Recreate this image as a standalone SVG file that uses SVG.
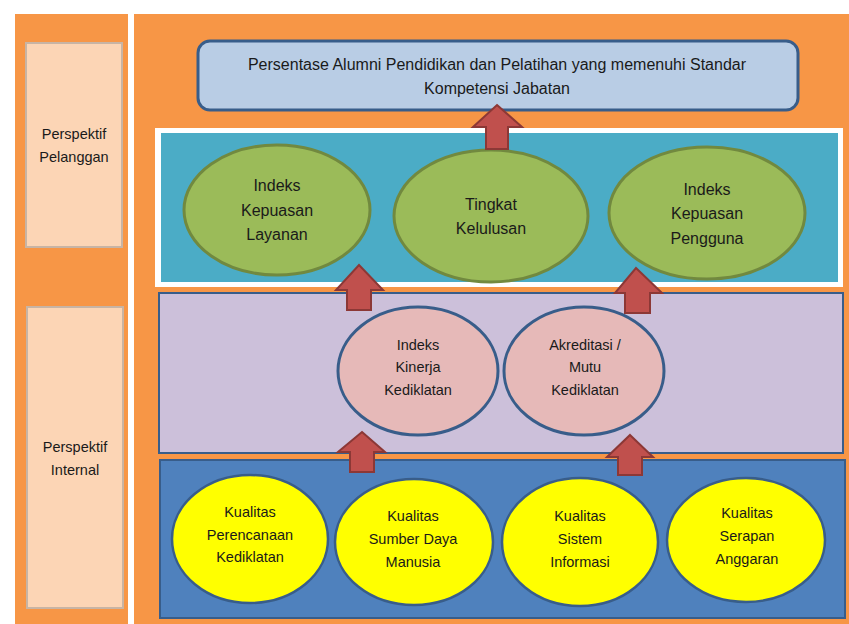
<svg xmlns="http://www.w3.org/2000/svg" width="849" height="624" viewBox="0 0 849 624">
<defs>
<style>
text{font-family:"Liberation Sans",Arial,sans-serif;font-size:14.5px;fill:#1a1a1a;text-anchor:middle}
.side{fill:#fcd5b5;stroke:#c8b4a4;stroke-width:2}
.green{fill:#9bbb59;stroke:#71893f;stroke-width:3}
.pink{fill:#e6b9b8;stroke:#385d8a;stroke-width:3}
.yellow{fill:#ffff00;stroke:#385d8a;stroke-width:2.5}
.arrow{fill:#c0504d;stroke:#8c3836;stroke-width:2;stroke-linejoin:miter}
.big{font-size:16px}
</style>
</defs>
<rect width="849" height="624" fill="#ffffff"/>
<g id="backgrounds">
<rect x="15" y="14" width="113" height="610" fill="#f79646"/>
<rect x="134" y="14" width="715" height="610" fill="#f79646"/>
</g>
<g id="perspektif-pelanggan">
<rect class="side" x="26" y="43" width="96" height="204"/>
<text x="74" y="139">Perspektif</text>
<text x="74" y="162">Pelanggan</text>
</g>
<g id="perspektif-internal">
<rect class="side" x="27" y="307" width="96" height="301"/>
<text x="75" y="452">Perspektif</text>
<text x="75" y="475">Internal</text>
</g>
<g id="panel-pelanggan">
<rect x="155" y="128" width="688" height="159" fill="#ffffff"/>
<rect x="161" y="133" width="677" height="149" fill="#4bacc6"/>
</g>
<g id="panel-internal">
<rect x="159" y="293" width="684" height="160" fill="#ccc0da" stroke="#385d8a" stroke-width="2"/>
</g>
<g id="panel-dasar">
<rect x="160" y="460" width="685" height="158" fill="#4f81bd" stroke="#385d8a" stroke-width="2"/>
</g>
<g id="persentase">
<rect x="198" y="41" width="600" height="69" rx="12" fill="#b9cde5" stroke="#385d8a" stroke-width="3"/>
<text class="big" x="497" y="70">Persentase Alumni Pendidikan dan Pelatihan yang memenuhi Standar</text>
<text class="big" x="497" y="94">Kompetensi Jabatan</text>
</g>
<g id="indeks-kepuasan-layanan">
<ellipse class="green" cx="277" cy="210" rx="93" ry="65"/>
<text class="big" x="277" y="191">Indeks</text>
<text class="big" x="277" y="216">Kepuasan</text>
<text class="big" x="277" y="240">Layanan</text>
</g>
<g id="tingkat-kelulusan">
<ellipse class="green" cx="491" cy="216" rx="97" ry="66"/>
<text class="big" x="491" y="210">Tingkat</text>
<text class="big" x="491" y="234">Kelulusan</text>
</g>
<g id="indeks-kepuasan-pengguna">
<ellipse class="green" cx="707" cy="213" rx="98" ry="66"/>
<text class="big" x="707" y="195">Indeks</text>
<text class="big" x="707" y="219">Kepuasan</text>
<text class="big" x="707" y="244">Pengguna</text>
</g>
<g id="indeks-kinerja">
<ellipse class="pink" cx="418" cy="371" rx="80" ry="64"/>
<text x="418" y="350">Indeks</text>
<text x="418" y="372">Kinerja</text>
<text x="418" y="395">Kediklatan</text>
</g>
<g id="akreditasi">
<ellipse class="pink" cx="584" cy="371" rx="80" ry="64"/>
<text x="585" y="350">Akreditasi /</text>
<text x="585" y="372">Mutu</text>
<text x="585" y="395">Kediklatan</text>
</g>
<g id="kualitas-perencanaan">
<ellipse class="yellow" cx="250" cy="539" rx="78" ry="64"/>
<text x="250" y="517">Kualitas</text>
<text x="250" y="540">Perencanaan</text>
<text x="250" y="562">Kediklatan</text>
</g>
<g id="kualitas-sdm">
<ellipse class="yellow" cx="414" cy="542" rx="79" ry="63"/>
<text x="413" y="521">Kualitas</text>
<text x="413" y="544">Sumber Daya</text>
<text x="413" y="567">Manusia</text>
</g>
<g id="kualitas-sistem">
<ellipse class="yellow" cx="580" cy="542" rx="78" ry="64"/>
<text x="580" y="521">Kualitas</text>
<text x="580" y="544">Sistem</text>
<text x="580" y="567">Informasi</text>
</g>
<g id="kualitas-serapan">
<ellipse class="yellow" cx="746" cy="540" rx="79" ry="62"/>
<text x="747" y="518">Kualitas</text>
<text x="747" y="541">Serapan</text>
<text x="747" y="564">Anggaran</text>
</g>
<g id="connectors">
<path class="arrow" d="M497 105 L522 127 L508 127 L508 149 L486 149 L486 127 L473 127 Z"/>
<path class="arrow" d="M359 265 L383 290 L371 290 L371 310 L347 310 L347 290 L336 290 Z"/>
<path class="arrow" d="M636 268 L662 293 L650 293 L650 313 L625 313 L625 293 L615 293 Z"/>
<path class="arrow" d="M362 432 L385 452 L374 452 L374 472 L350 472 L350 452 L338 452 Z"/>
<path class="arrow" d="M630 435 L653 457 L642 457 L642 475 L618 475 L618 457 L607 457 Z"/>
</g>
</svg>
